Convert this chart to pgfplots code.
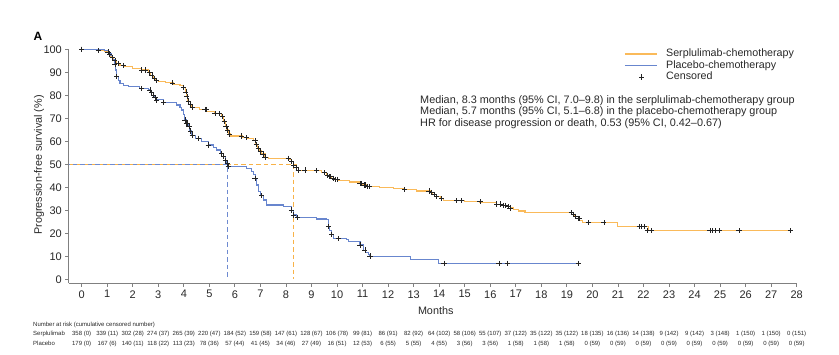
\documentclass[border=0pt]{standalone}
\usepackage{fontspec}
\setmainfont{Liberation Sans}
\usepackage{pgfplots}
\usepackage{pgfplotstable}
\pgfplotsset{compat=1.18}
\definecolor{serp}{RGB}{250,186,90}
\definecolor{plac}{RGB}{104,134,206}
\definecolor{serpd}{RGB}{248,178,72}
\definecolor{placd}{RGB}{110,138,208}
\definecolor{axgray}{RGB}{128,128,128}
\definecolor{txt}{RGB}{40,40,40}
\definecolor{cens}{RGB}{35,35,35}

\pgfplotstableread{
t S
0 100
0.7 99.4
0.9 98.9
1.05 98.0
1.15 96.6
1.25 95.0
1.35 93.9
1.5 93.0
1.65 92.4
2.0 91.8
2.35 91.0
2.6 90.0
2.7 88.8
2.8 87.4
2.9 86.5
3.0 85.9
3.3 85.4
3.6 84.8
3.85 84.2
3.98 83.5
4.05 81.5
4.1 79.5
4.15 77.5
4.2 76.0
4.31 74.8
4.6 73.8
4.9 72.9
5.2 72.0
5.48 70.7
5.55 68.5
5.62 66.5
5.68 64.9
5.75 63.2
5.81 62.3
6.3 61.6
6.5 61.3
6.72 60.3
6.8 58.5
6.88 57.0
6.95 55.8
7.05 54.5
7.18 53.0
7.3 52.6
8.1 52.0
8.2 51.2
8.29 49.7
8.4 48.5
8.48 47.5
9.2 47.2
9.4 46.3
9.59 45.3
9.7 44.6
9.8 44.0
9.92 43.5
10.05 42.9
10.5 42.3
10.9 41.7
11.0 41.0
11.16 40.3
11.68 40.1
12.2 39.6
12.59 39.1
13.1 38.4
13.64 37.7
13.75 36.9
13.9 35.9
14.05 35.0
14.16 34.2
15.0 33.7
15.6 33.3
16.25 32.7
16.5 32.1
16.64 31.6
16.8 31.0
16.9 30.4
17.1 29.7
17.36 29.0
19.18 28.3
19.3 27.4
19.44 26.5
19.51 25.6
19.6 24.6
20.97 22.9
22.18 21.1
27.8 21.1
}\serpkm

\pgfplotstableread{
t S
0 100
0.9 99.4
1.05 98.3
1.15 97.2
1.22 95.5
1.28 93.5
1.32 91.0
1.37 88.1
1.43 86.5
1.5 85.2
1.65 84.2
1.83 83.7
2.28 83.0
2.6 82.3
2.7 81.3
2.8 80.1
2.87 79.0
2.94 78.0
3.2 76.8
3.72 75.8
3.85 74.6
3.92 73.6
3.98 71.5
4.04 69.3
4.1 67.8
4.17 66.3
4.24 64.5
4.31 62.7
4.44 61.3
4.7 60.0
4.96 58.4
5.15 57.3
5.29 56.2
5.42 54.8
5.54 53.3
5.62 51.8
5.68 50.4
5.74 49.0
6.46 48.3
6.66 46.8
6.72 45.5
6.79 43.9
6.85 41.0
6.92 38.1
7.0 36.3
7.11 34.5
7.24 32.3
7.89 31.6
8.22 30.1
8.29 28.0
8.42 27.0
9.2 26.2
9.59 25.9
9.66 22.9
9.72 21.2
9.79 19.6
9.85 17.8
10.37 17.2
10.44 16.4
10.9 14.9
11.03 12.7
11.12 11.6
11.22 10.6
11.29 10.1
12.88 8.7
13.96 7.0
19.44 7.0
}\plackm

\pgfplotstableread{
t S
0 100
0.65 99.4
1.03 98.9
1.1 98.0
1.2 96.6
1.3 95.0
1.42 93.9
1.63 93.0
2.35 91.0
2.5 91.0
2.65 90.0
2.75 88.8
2.85 87.4
2.93 86.5
3.56 85.4
4.0 83.5
4.08 81.5
4.12 79.5
4.18 77.5
4.25 76.0
4.33 74.8
4.83 73.8
4.87 73.8
5.22 72.0
5.38 72.0
5.5 70.7
5.58 68.5
5.65 66.5
5.72 64.9
5.78 63.2
6.26 62.3
6.46 61.6
6.79 60.3
6.85 58.5
6.92 57.0
7.0 55.8
7.1 54.5
7.18 53.0
8.09 52.6
8.22 51.2
8.3 49.7
8.42 48.5
8.48 47.5
8.74 47.5
9.2 47.2
9.5 46.3
9.62 45.3
9.7 44.6
9.75 44.6
9.85 44.0
9.92 43.5
10.0 43.5
10.9 41.7
10.95 41.7
11.05 41.0
11.1 41.0
11.18 40.3
11.25 40.3
12.65 39.1
13.6 38.4
13.7 37.7
13.8 36.9
13.9 35.9
14.1 35.0
14.68 34.2
14.88 34.2
15.6 33.7
16.25 32.7
16.4 32.7
16.5 32.1
16.6 32.1
16.7 31.6
16.77 31.0
19.18 29.0
19.25 28.3
19.35 27.4
19.45 26.5
19.5 26.5
19.84 24.6
20.45 24.6
21.83 22.9
21.92 22.9
22.05 22.9
22.15 21.1
22.32 21.1
24.6 21.1
24.7 21.1
24.82 21.1
24.98 21.1
25.74 21.1
27.76 21.1
}\serpcens

\pgfplotstableread{
t S
0 100
1.3 93.5
1.37 88.1
2.35 83.0
2.67 82.3
2.74 81.3
2.82 80.1
2.87 79.0
2.94 78.0
3.2 76.8
4.05 69.3
4.1 67.8
4.15 67.8
4.2 66.3
4.27 64.5
4.33 62.7
4.57 61.3
4.96 58.4
5.48 54.8
5.55 53.3
5.62 51.8
5.7 50.4
5.74 49.0
6.79 43.9
7.05 36.3
8.22 30.1
8.29 28.0
8.44 27.0
9.66 22.9
9.79 19.6
10.05 17.8
10.9 14.9
11.09 12.7
11.29 10.1
14.19 7.0
16.34 7.0
16.66 7.0
19.44 7.0
}\placcens

\begin{document}
\begin{tikzpicture}
\begin{axis}[
  at={(0,0)}, anchor=south west,
  scale only axis, width=727.8pt, height=234pt,
  xmin=-0.5, xmax=28, ymin=-1.74, ymax=100,
  axis x line*=bottom, axis y line*=left,
  axis line style={axgray, line width=0.8pt, -},
  xtick={0,...,28}, ytick={0,10,...,100},
  tick align=outside, major tick length=3.5pt,
  tick style={axgray, line width=0.8pt},
  ticklabel style={font=\fontsize{11}{13}\selectfont, text=txt},
  /pgf/number format/assume math mode=true,
  clip=false,
  xlabel={Months}, ylabel={Progression-free survival (\%)},
  every axis x label/.style={at={(rel axis cs:0.504,-0.117)}, anchor=center, font=\fontsize{10.8}{12}\selectfont, text=txt},
  every axis y label/.style={at={(rel axis cs:-0.041,0.5056)}, rotate=90, anchor=center, font=\fontsize{10.8}{12}\selectfont, text=txt},
]
% median lines
\addplot[serpd, line width=1.3pt, dash pattern=on 4.5pt off 3pt] coordinates {(-0.5,50) (8.3,50) (8.3,0)};
\addplot[placd, line width=1.3pt, dash pattern=on 4.5pt off 3pt, dash phase=3.8pt] coordinates {(-0.5,50) (5.7,50) (5.7,0)};
% KM curves
\addplot[serp, line width=1.1pt, const plot] table[x=t, y=S] {\serpkm};
\addplot[plac, line width=1.1pt, const plot] table[x=t, y=S] {\plackm};
% censor marks
\addplot[only marks, mark=+, mark size=2.6pt, cens, mark options={line width=0.65pt}] table[x=t, y=S] {\serpcens};
\addplot[only marks, mark=+, mark size=2.6pt, cens, mark options={line width=0.65pt}] table[x=t, y=S] {\placcens};
% legend
\addplot[serp, line width=1.1pt] coordinates {(21.27,97.96) (22.52,97.96)};
\addplot[plac, line width=1.1pt] coordinates {(21.27,92.96) (22.52,92.96)};
\addplot[only marks, mark=+, mark size=2.6pt, cens, mark options={line width=0.65pt}] coordinates {(21.93,87.96)};
\node[anchor=mid west, font=\fontsize{10.7}{12}\selectfont, text=txt, inner sep=0pt] at (axis cs:22.88,97.96) {Serplulimab-chemotherapy};
\node[anchor=mid west, font=\fontsize{10.7}{12}\selectfont, text=txt, inner sep=0pt] at (axis cs:22.88,92.96) {Placebo-chemotherapy};
\node[anchor=mid west, font=\fontsize{10.7}{12}\selectfont, text=txt, inner sep=0pt] at (axis cs:22.88,87.96) {Censored};
% annotation
\node[anchor=mid west, font=\fontsize{10.85}{12}\selectfont, text=txt, inner sep=0pt] at (axis cs:13.25,77.7) {Median, 8.3 months (95\% CI, 7.0–9.8) in the serplulimab-chemotherapy group};
\node[anchor=mid west, font=\fontsize{10.85}{12}\selectfont, text=txt, inner sep=0pt] at (axis cs:13.25,72.7) {Median, 5.7 months (95\% CI, 5.1–6.8) in the placebo-chemotherapy group};
\node[anchor=mid west, font=\fontsize{10.85}{12}\selectfont, text=txt, inner sep=0pt] at (axis cs:13.25,67.7) {HR for disease progression or death, 0.53 (95\% CI, 0.42–0.67)};
\node[font=\bfseries\fontsize{12}{14}\selectfont, inner sep=0pt] at (rel axis cs:-0.0425,1.057) {A};
\end{axis}
% number at risk table
\begin{scope}[every node/.style={font=\fontsize{6}{7}\selectfont, text=txt, inner sep=0pt}]
\node[anchor=mid west] at (-35.9pt,-40.7pt) {Number at risk (cumulative censored number)};
\node[anchor=mid west] at (-35.9pt,-49.4pt) {Serplulimab};
\node[anchor=mid west] at (-35.9pt,-59.4pt) {Placebo};
\foreach \s/\p [count=\i from 0] in {358 (0)/179 (0), 339 (11)/167 (6), 302 (28)/140 (11), 274 (37)/118 (22), 265 (39)/113 (23), 220 (47)/78 (36), 184 (52)/57 (44), 159 (58)/41 (45), 147 (61)/34 (46), 128 (67)/27 (49), 106 (78)/16 (51), 99 (81)/12 (53), 86 (91)/6 (55), 82 (92)/5 (55), 64 (102)/4 (55), 58 (106)/3 (56), 55 (107)/3 (56), 37 (122)/1 (58), 35 (122)/1 (58), 35 (122)/1 (58), 18 (135)/0 (59), 16 (136)/0 (59), 14 (138)/0 (59), 9 (142)/0 (59), 9 (142)/0 (59), 3 (148)/0 (59), 1 (150)/0 (59), 1 (150)/0 (59), 0 (151)/0 (59)} {
  \node[anchor=mid] at ({25.537pt*(\i+0.5)},-49.4pt) {\s};
  \node[anchor=mid] at ({25.537pt*(\i+0.5)},-59.4pt) {\p};
}
\end{scope}
\pgfresetboundingbox
\path[use as bounding box] (-68.9pt,-70.7pt) rectangle (770.1pt,283.3pt);
\end{tikzpicture}
\end{document}
